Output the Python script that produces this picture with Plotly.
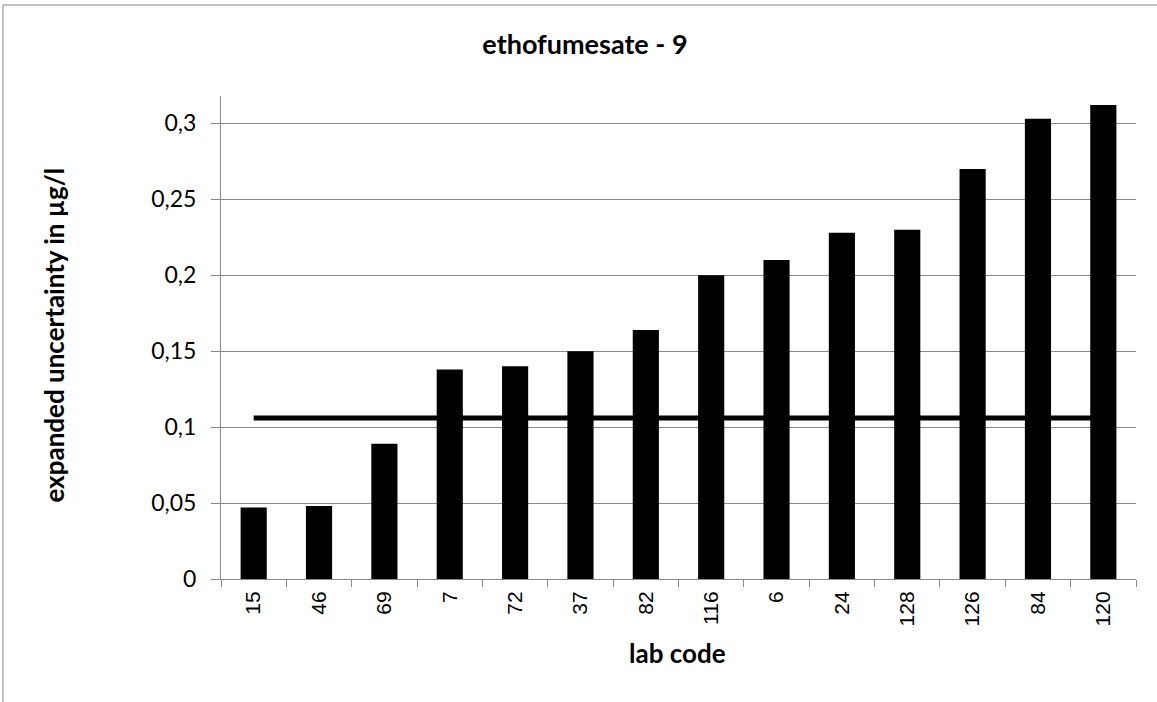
import plotly.graph_objects as go

labs = ["15", "46", "69", "7", "72", "37", "82", "116", "6", "24", "128", "126", "84", "120"]
uncertainty = [0.047, 0.048, 0.089, 0.138, 0.140, 0.150, 0.164, 0.200, 0.210, 0.228, 0.230, 0.270, 0.303, 0.312]
reference_line = [0.106] * len(labs)
ytick_vals = [0, 0.05, 0.1, 0.15, 0.2, 0.25, 0.3]
ytick_text = ["0", "0,05", "0,1", "0,15", "0,2", "0,25", "0,3"]

FONT = "Lato, Open Sans, sans-serif"
GRAY = "#898989"

fig = go.Figure()
fig.add_trace(go.Bar(x=labs, y=uncertainty, marker=dict(color="black", line=dict(color="black", width=0)),
                     showlegend=False))
fig.add_trace(go.Scatter(x=labs, y=reference_line, mode="lines", line=dict(color="black", width=5),
                         showlegend=False))

fig.update_layout(
    width=1157, height=702,
    paper_bgcolor="white", plot_bgcolor="white",
    margin=dict(l=221, r=21, t=96, b=123),
    bargap=0.6,
    title=dict(text="<b>ethofumesate - 9</b>", x=0.5056, xanchor="center", y=0.937, yanchor="middle",
               font=dict(family=FONT, size=27, color="black")),
    xaxis=dict(type="category", tickson="boundaries", ticks="outside", ticklen=7, tickcolor=GRAY,
               showline=True, linecolor=GRAY, linewidth=1, showgrid=False,
               tickangle=-90, ticklabelstandoff=3,
               tickfont=dict(family="Liberation Sans, Arial, sans-serif", size=21, color="black")),
    yaxis=dict(range=[0, 0.318], tickvals=ytick_vals, ticktext=ytick_text, ticks="outside", ticklen=9,
               tickcolor=GRAY, showline=True, linecolor=GRAY, linewidth=1, ticklabelstandoff=10,
               showgrid=True, gridcolor=GRAY, gridwidth=1, zeroline=False,
               tickfont=dict(family=FONT, size=23, color="black")),
    annotations=[
        dict(text="<b>expanded uncertainty in µg/l</b>", xref="paper", yref="paper", x=-0.1825, y=0.504,
             xanchor="center", yanchor="middle", textangle=-90, showarrow=False,
             font=dict(family=FONT, size=26, color="black")),
        dict(text="<b>lab code</b>", xref="paper", yref="paper", x=0.4985, y=-0.153,
             xanchor="center", yanchor="middle", showarrow=False,
             font=dict(family=FONT, size=26, color="black")),
    ],
    shapes=[dict(type="rect", xref="paper", yref="paper", x0=-0.2383, x1=1.2, y0=-0.6, y1=1.1884,
                 line=dict(color=GRAY, width=1), fillcolor="rgba(0,0,0,0)", layer="below")],
)

fig.write_html("out.html", config={"displayModeBar": False},
               post_script="document.body.style.margin='0';")
